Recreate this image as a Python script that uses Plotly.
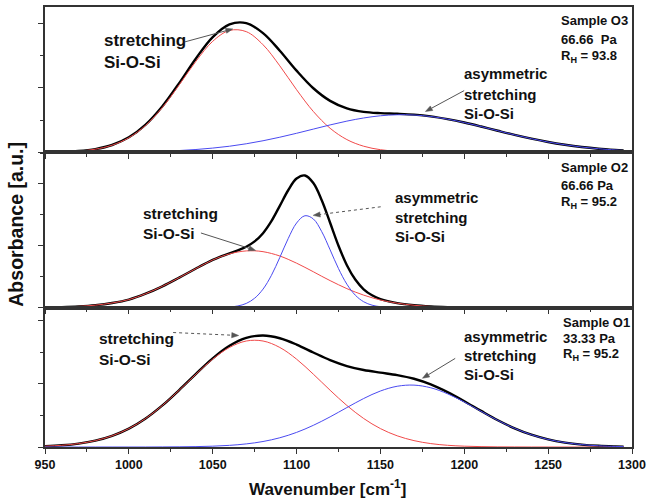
import plotly.graph_objects as go

# ---------------- data ----------------
wn_top = [950, 960, 970, 980, 990, 1000, 1010, 1020, 1030, 1040, 1050, 1060, 1070, 1080,
          1090, 1100, 1110, 1120, 1130, 1140, 1150, 1160, 1170, 1180, 1190, 1200, 1210,
          1220, 1230, 1240, 1250, 1260, 1270, 1280, 1290, 1295]
top_red = [0.002, 0.007, 0.019, 0.049, 0.111, 0.227, 0.419, 0.698, 1.047, 1.415, 1.725, 1.894,
           1.875, 1.672, 1.344, 0.973, 0.635, 0.374, 0.198, 0.095, 0.041, 0.016, 0.006, 0.002,
           0, 0, 0, 0, 0, 0, 0, 0, 0, 0, 0, 0]
top_blue = [0.000, 0.000, 0.001, 0.002, 0.003, 0.006, 0.011, 0.018, 0.028, 0.044, 0.066, 0.095,
            0.133, 0.180, 0.235, 0.296, 0.361, 0.426, 0.485, 0.534, 0.568, 0.584, 0.580, 0.557,
            0.516, 0.463, 0.401, 0.335, 0.271, 0.212, 0.160, 0.117, 0.082, 0.056, 0.037, 0.029]
top_sum = [0.002, 0.007, 0.020, 0.051, 0.114, 0.233, 0.430, 0.716, 1.075, 1.459, 1.791, 1.989,
           2.008, 1.852, 1.579, 1.269, 0.996, 0.800, 0.683, 0.629, 0.609, 0.600, 0.586, 0.559,
           0.516, 0.463, 0.401, 0.335, 0.271, 0.212, 0.160, 0.117, 0.082, 0.056, 0.037, 0.029]

wn_mid = [950, 960, 970, 980, 990, 1000, 1010, 1020, 1030, 1040, 1050, 1055, 1060, 1065, 1070,
          1075, 1080, 1085, 1090, 1095, 1100, 1105, 1110, 1115, 1120, 1125, 1130, 1135, 1140,
          1145, 1150, 1160, 1170, 1180, 1190, 1200]
mid_red = [0.004, 0.009, 0.020, 0.040, 0.075, 0.130, 0.225, 0.345, 0.485, 0.632, 0.770, 0.825,
           0.869, 0.900, 0.917, 0.919, 0.905, 0.876, 0.835, 0.781, 0.719, 0.651, 0.580, 0.507,
           0.437, 0.370, 0.307, 0.252, 0.202, 0.160, 0.124, 0.072, 0.038, 0.019, 0.009, 0.004]
mid_blue = [0, 0, 0, 0, 0, 0, 0, 0, 0, 0, 0.001, 0.003, 0.010, 0.027, 0.068, 0.152, 0.299, 0.522,
            0.811, 1.117, 1.368, 1.486, 1.434, 1.229, 0.935, 0.631, 0.379, 0.202, 0.095, 0.040,
            0.015, 0.001, 0, 0, 0, 0]
mid_sum = [0.004, 0.009, 0.020, 0.040, 0.075, 0.130, 0.225, 0.345, 0.485, 0.632, 0.771, 0.828,
           0.879, 0.927, 0.985, 1.071, 1.204, 1.398, 1.646, 1.898, 2.087, 2.137, 2.014, 1.736,
           1.372, 1.001, 0.686, 0.454, 0.297, 0.200, 0.139, 0.073, 0.038, 0.019, 0.009, 0.004]

wn_bot = wn_top
bot_red = [0.013, 0.027, 0.054, 0.101, 0.177, 0.291, 0.451, 0.657, 0.898, 1.152, 1.390, 1.575,
           1.677, 1.677, 1.575, 1.390, 1.152, 0.898, 0.657, 0.451, 0.291, 0.177, 0.101, 0.054,
           0.027, 0.013, 0.006, 0.002, 0.001, 0, 0, 0, 0, 0, 0, 0]
bot_blue = [0, 0, 0, 0, 0, 0, 0, 0.001, 0.003, 0.006, 0.013, 0.026, 0.049, 0.087, 0.146, 0.231,
            0.343, 0.477, 0.624, 0.767, 0.886, 0.961, 0.979, 0.937, 0.842, 0.712, 0.565, 0.421,
            0.295, 0.194, 0.120, 0.070, 0.038, 0.019, 0.009, 0.006]
bot_sum = [0.013, 0.027, 0.054, 0.101, 0.177, 0.291, 0.451, 0.658, 0.901, 1.158, 1.403, 1.601,
           1.726, 1.764, 1.721, 1.621, 1.495, 1.375, 1.281, 1.218, 1.177, 1.138, 1.080, 0.991,
           0.869, 0.725, 0.571, 0.423, 0.296, 0.194, 0.120, 0.070, 0.038, 0.019, 0.009, 0.006]

x_tick_vals = [950, 1000, 1050, 1100, 1150, 1200, 1250, 1300]
x_tick_text = ["950", "1000", "1050", "1100", "1150", "1200", "1250", "1300"]

samples = [
    ["Sample O3", "66.66\u00a0 Pa", "R<sub>H</sub> = 93.8"],
    ["Sample O2", "66.66 Pa", "R<sub>H</sub> = 95.2"],
    ["Sample O1", "33.33 Pa", "R<sub>H</sub> = 95.2"],
]

# ---------------- styling ----------------
FONT = "Liberation Sans, Arial, sans-serif"
BLACK = "#000000"
RED = "#f04a4a"
BLUE = "#4a4af0"
AXC = "#333333"
ARC = "#555555"
W, H = 651, 504
L, R, T, B = 45, 15, 5, 57
PW, PH = W - L - R, H - T - B


def P(px, py):
    return (px - L) / PW, (H - B - py) / PH


fig = go.Figure()
panels = [
    (wn_top, top_sum, top_red, top_blue, "x", "y"),
    (wn_mid, mid_sum, mid_red, mid_blue, "x2", "y2"),
    (wn_bot, bot_sum, bot_red, bot_blue, "x3", "y3"),
]
for wn, s, r, b, xa, ya in panels:
    fig.add_trace(go.Scatter(x=wn, y=s, mode="lines", xaxis=xa, yaxis=ya,
                             line=dict(color=BLACK, width=2.4, shape="spline")))
    fig.add_trace(go.Scatter(x=wn, y=r, mode="lines", xaxis=xa, yaxis=ya,
                             line=dict(color=RED, width=1, shape="spline")))
    fig.add_trace(go.Scatter(x=wn, y=b, mode="lines", xaxis=xa, yaxis=ya,
                             line=dict(color=BLUE, width=1, shape="spline")))

xcommon = dict(range=[950, 1300], showline=True, linecolor=AXC, linewidth=1.5, mirror=True,
               ticks="outside", ticklen=5, tickwidth=1.2, tickcolor=AXC,
               tickvals=x_tick_vals, ticktext=x_tick_text,
               minor=dict(dtick=25, tick0=950, ticks="outside", ticklen=3, tickcolor=AXC, tickwidth=1),
               showgrid=False, zeroline=False,
               tickfont=dict(family=FONT, size=12.5, color="#111", weight="bold"))
ycommon = dict(showline=True, linecolor=AXC, linewidth=1.5, mirror=True,
               ticks="outside", ticklen=5, tickwidth=1.2, tickcolor=AXC,
               dtick=1, tick0=0,
               minor=dict(dtick=0.5, tick0=0, ticks="outside", ticklen=3, tickcolor=AXC, tickwidth=1),
               showticklabels=False, showgrid=False, zeroline=False)

d1 = (H - B - 151) / PH
d2 = (H - B - 307) / PH
fig.update_layout(
    width=W, height=H, margin=dict(l=L, r=R, t=T, b=B),
    paper_bgcolor="white", plot_bgcolor="white", showlegend=False,
    font=dict(family=FONT, color="#111"),
    xaxis=dict(xcommon, anchor="y", showticklabels=False),
    xaxis2=dict(xcommon, anchor="y2", matches="x", showticklabels=False),
    xaxis3=dict(xcommon, anchor="y3", matches="x"),
    yaxis=dict(ycommon, domain=[d1, 1], range=[0, 2.258]),
    yaxis2=dict(ycommon, domain=[d2, d1], range=[0, 2.511]),
    yaxis3=dict(ycommon, domain=[0, d2], range=[0, 2.205]),
)

ann = []
shapes = []


def text(px, py, s, size):
    x, y = P(px, py)
    ann.append(dict(x=x, y=y, xref="paper", yref="paper", xanchor="left", yanchor="middle",
                    text=s, showarrow=False, font=dict(family=FONT, size=size, color="#111", weight="bold")))


def arrow(tail, head, dash="solid"):
    dx, dy = tail[0] - head[0], tail[1] - head[1]
    n = (dx * dx + dy * dy) ** 0.5
    ux, uy = dx / n, dy / n
    hl, hw = 7.0, 2.6
    base = (head[0] + ux * hl, head[1] + uy * hl)
    x0, y0 = P(*tail)
    x1, y1 = P(*base)
    shapes.append(dict(type="line", xref="paper", yref="paper", x0=x0, y0=y0, x1=x1, y1=y1,
                       line=dict(color=ARC, width=1, dash=dash)))
    pa = P(*head)
    pb = P(base[0] - uy * hw, base[1] + ux * hw)
    pc = P(base[0] + uy * hw, base[1] - ux * hw)
    path = "M {:.5f} {:.5f} L {:.5f} {:.5f} L {:.5f} {:.5f} Z".format(pa[0], pa[1], pb[0], pb[1], pc[0], pc[1])
    shapes.append(dict(type="path", xref="paper", yref="paper", path=path,
                       fillcolor=ARC, line=dict(color=ARC, width=0.5)))


# top panel
text(102, 39, "stretching", 17)
text(102, 61, "Si-O-Si", 17)
arrow((186, 40), (234, 27))
text(465, 71.5, "asymmetric", 15)
text(465, 92.5, "stretching", 15)
text(465, 111.5, "Si-O-Si", 15)
arrow((467, 89), (428, 110))
# middle panel
text(142, 212.5, "stretching", 15.5)
text(142, 233, "Si-O-Si", 15.5)
arrow((202, 232), (257, 249.5))
text(395, 196, "asymmetric", 15)
text(395, 216.5, "stretching", 15)
text(395, 235.5, "Si-O-Si", 15)
arrow((383, 205.7), (315, 214.3), dash="dot")
# bottom panel
text(97, 338, "stretching", 15.5)
text(97, 359, "Si-O-Si", 15.5)
arrow((174, 332), (240, 335), dash="dot")
text(465, 336, "asymmetric", 15)
text(465, 355, "stretching", 15)
text(465, 374, "Si-O-Si", 15)
arrow((458, 358), (425, 378))

# sample labels
sample_pos = [(562, [18.5, 38, 55]), (562, [166.5, 184.5, 201]), (565, [322, 338, 354.5])]
for lines, (px, ys) in zip(samples, sample_pos):
    for s, py in zip(lines, ys):
        text(px, py, s, 13)

# axis titles
x, y = P(15.5, 223)
ann.append(dict(x=x, y=y, xref="paper", yref="paper", xanchor="center", yanchor="middle",
                text="Absorbance [a.u.]", textangle=-90, showarrow=False,
                font=dict(family=FONT, size=19.5, color="#111", weight="bold")))
x, y = P(329, 488)
ann.append(dict(x=x, y=y, xref="paper", yref="paper", xanchor="center", yanchor="middle",
                text="Wavenumber [cm<sup>-1</sup>]", showarrow=False,
                font=dict(family=FONT, size=17, color="#111", weight="bold")))

fig.update_layout(annotations=ann, shapes=shapes)
fig.write_html("out.html", config={"displayModeBar": False},
               post_script="document.body.style.margin='0px';document.body.style.overflow='hidden';")
